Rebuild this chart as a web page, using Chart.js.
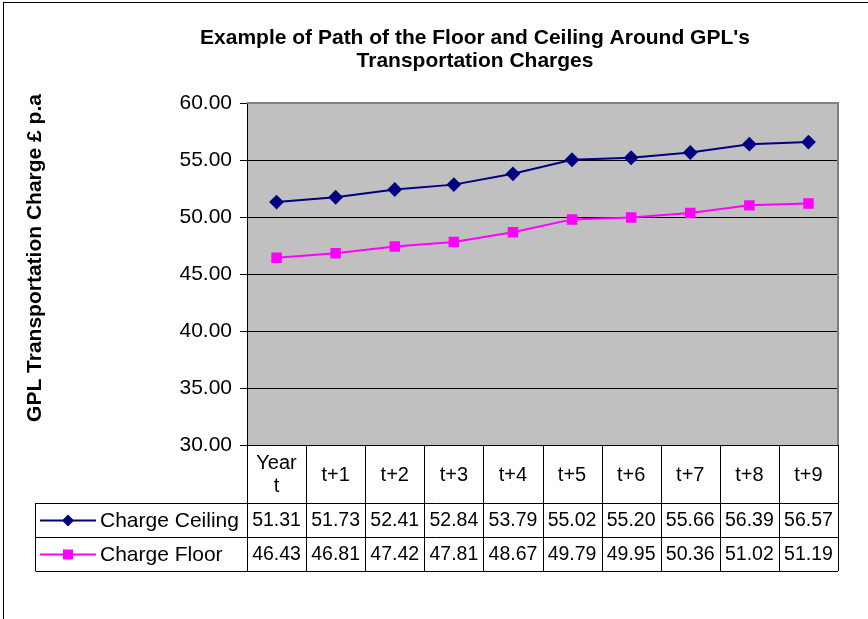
<!DOCTYPE html>
<html>
<head>
<meta charset="utf-8">
<script src="https://cdn.jsdelivr.net/npm/chart.js@4/dist/chart.umd.min.js"></script>
<style>
  body { margin: 0; background: #fff; }
  canvas { display: block; }
</style>
</head>
<body>
<canvas id="grafico" width="868" height="619"></canvas>
<script>
// ===== DATOS =====
const years = [['Year', 't'], 't+1', 't+2', 't+3', 't+4', 't+5', 't+6', 't+7', 't+8', 't+9'];
const ceiling = [51.31, 51.73, 52.41, 52.84, 53.79, 55.02, 55.20, 55.66, 56.39, 56.57];
const floor = [46.43, 46.81, 47.42, 47.81, 48.67, 49.79, 49.95, 50.36, 51.02, 51.19];
const yMin = 30, yMax = 60, yStep = 5;
const titleLines = ["Example of Path of the Floor and Ceiling Around GPL's", 'Transportation Charges'];
const yTitle = 'GPL Transportation Charge \u00a3 p.a';

const FONT = "'Liberation Sans', Arial, sans-serif";
const NAVY = '#000080';
const MAGENTA = '#ff00ff';

// fondo gris del área de trazado + marco
const areaPlugin = {
  id: 'area',
  beforeDraw(chart) {
    const { ctx, chartArea: a } = chart;
    ctx.save();
    ctx.fillStyle = '#fff';
    ctx.fillRect(0, 0, chart.width, chart.height);
    ctx.strokeStyle = '#000';
    ctx.lineWidth = 1;
    ctx.strokeRect(3.5, 2.5, 1000, 1000);
    ctx.fillStyle = '#c0c0c0';
    ctx.fillRect(a.left, a.top, a.right - a.left, a.bottom - a.top);
    ctx.restore();
  },
  beforeDatasetsDraw(chart) {
    const { ctx, chartArea: a } = chart;
    ctx.save();
    ctx.strokeStyle = '#808080';
    ctx.lineWidth = 2;
    ctx.beginPath();
    ctx.moveTo(a.left, a.top);
    ctx.lineTo(a.right, a.top);
    ctx.lineTo(a.right, a.bottom);
    ctx.stroke();
    ctx.restore();
  },
  afterDraw(chart) {
    const { ctx, chartArea: a } = chart;
    const x = chart.scales.x;
    ctx.save();
    // título
    ctx.fillStyle = '#000';
    ctx.textAlign = 'center';
    ctx.textBaseline = 'middle';
    ctx.font = 'bold 21px ' + FONT;
    ctx.fillText(titleLines[0], 475, 38);
    ctx.fillText(titleLines[1], 475, 61);
    // título eje y
    ctx.save();
    ctx.translate(35, 258);
    ctx.rotate(-Math.PI / 2);
    ctx.fillText(yTitle, 0, 0);
    ctx.restore();

    // tabla de datos
    const cw = (a.right - a.left) / years.length;
    const rowH = [58, 34, 34];
    const y0 = a.bottom, y1 = y0 + rowH[0], y2 = y1 + rowH[1], y3 = y2 + rowH[2];
    const legL = 35.5;
    ctx.strokeStyle = '#000';
    ctx.lineWidth = 1;
    ctx.beginPath();
    for (let i = 0; i <= years.length; i++) {
      const xx = Math.round(a.left + i * cw) + 0.5;
      ctx.moveTo(xx, y0);
      ctx.lineTo(xx, y3);
    }
    ctx.moveTo(legL, y1);
    ctx.lineTo(legL, y3);
    [y1, y2, y3].forEach(yy => {
      ctx.moveTo(legL, yy + 0.5);
      ctx.lineTo(a.right, yy + 0.5);
    });
    ctx.stroke();

    ctx.font = '20px ' + FONT;
    years.forEach((lab, i) => {
      const cx = x.getPixelForValue(i);
      if (Array.isArray(lab)) {
        ctx.fillText(lab[0], cx, y0 + 18);
        ctx.fillText(lab[1], cx, y0 + 41);
      } else {
        ctx.fillText(lab, cx, y0 + 30);
      }
    });
    ctx.font = '19.5px ' + FONT;
    years.forEach((lab, i) => {
      const cx = x.getPixelForValue(i);
      ctx.fillText(ceiling[i].toFixed(2), cx, y1 + 18);
      ctx.fillText(floor[i].toFixed(2), cx, y2 + 18);
    });

    // claves de leyenda
    ctx.font = '21px ' + FONT;
    chart.data.datasets.forEach((ds, k) => {
      const cy = (k === 0 ? y1 : y2) + 17.5;
      ctx.strokeStyle = ds.borderColor;
      ctx.lineWidth = 2;
      ctx.beginPath();
      ctx.moveTo(40, cy);
      ctx.lineTo(96, cy);
      ctx.stroke();
      ctx.fillStyle = ds.borderColor;
      if (k === 0) {
        ctx.beginPath();
        ctx.moveTo(68, cy - 6);
        ctx.lineTo(74, cy);
        ctx.lineTo(68, cy + 6);
        ctx.lineTo(62, cy);
        ctx.closePath();
        ctx.fill();
      } else {
        ctx.fillRect(63, cy - 5, 10, 10);
      }
      ctx.fillStyle = '#000';
      ctx.textAlign = 'left';
      ctx.fillText(ds.label, 100, cy + 1);
      ctx.textAlign = 'center';
    });
    ctx.restore();
  }
};

new Chart(document.getElementById('grafico'), {
  type: 'line',
  data: {
    labels: years,
    datasets: [
      {
        label: 'Charge Ceiling',
        data: ceiling,
        borderColor: NAVY,
        backgroundColor: NAVY,
        borderWidth: 2,
        pointStyle: 'rectRot',
        pointRadius: 6,
        tension: 0
      },
      {
        label: 'Charge Floor',
        data: floor,
        borderColor: MAGENTA,
        backgroundColor: MAGENTA,
        borderWidth: 2,
        pointStyle: 'rect',
        pointRadius: 6,
        tension: 0
      }
    ]
  },
  options: {
    responsive: false,
    animation: false,
    layout: { padding: { left: 0, right: 30, top: 103, bottom: 174 } },
    plugins: { legend: { display: false }, tooltip: { enabled: false } },
    scales: {
      x: { display: false, offset: true },
      y: {
        min: yMin,
        max: yMax,
        afterFit(scale) { scale.width = 247; },
        ticks: {
          stepSize: yStep,
          color: '#000',
          padding: 8,
          font: { family: FONT, size: 21 },
          callback: v => v.toFixed(2)
        },
        grid: { color: '#000', lineWidth: 1, tickLength: 7, tickColor: '#000' },
        border: { color: '#000', width: 1 }
      }
    }
  },
  plugins: [areaPlugin]
});
</script>
</body>
</html>
